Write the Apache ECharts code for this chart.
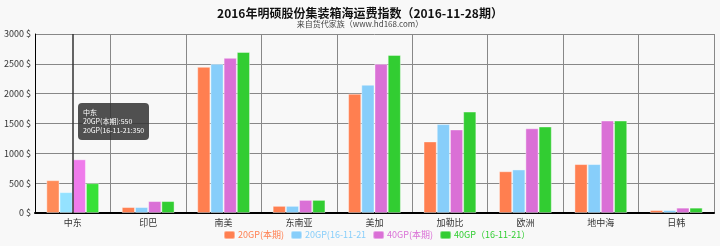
<!DOCTYPE html>
<html><head><meta charset="utf-8">
<script src="https://cdn.jsdelivr.net/npm/echarts@6/dist/echarts.min.js"></script>
<style>html,body{margin:0;padding:0;background:#f8f8f8}#c{width:720px;height:246px}</style>
</head><body><div id="c"></div>
<script>
var categories = ['中东','印巴','南美','东南亚','美加','加勒比','欧洲','地中海','日韩'];
var seriesNames = ['20GP(本期)','20GP(16-11-21','40GP(本期)','40GP（16-11-21）'];
var gp20Now = [550, 100, 2450, 120, 2000, 1200, 700, 820, 50];
var gp20Prev = [350, 100, 2500, 120, 2150, 1490, 730, 820, 50];
var gp40Now = [900, 200, 2600, 220, 2500, 1400, 1420, 1550, 90];
var gp40Prev = [500, 200, 2700, 220, 2650, 1700, 1450, 1550, 90];
var yTicks = [0, 500, 1000, 1500, 2000, 2500, 3000];
var colors = ['#ff7f50','#87cefa','#da70d6','#32cd32'];
var font = '"Noto Sans CJK SC", "Noto Sans", sans-serif';
var chart = echarts.init(document.getElementById('c'), null, {renderer:'canvas'});
var data = [gp20Now, gp20Prev, gp40Now, gp40Prev];
chart.setOption({
  backgroundColor: '#f8f8f8',
  animation: false,
  color: colors,
  textStyle: {fontFamily: font},
  title: {
    text: '2016年明硕股份集装箱海运费指数（2016-11-28期）',
    subtext: '来自货代家族（www.hd168.com）',
    left: 'center', top: 2, itemGap: 1,
    textStyle: {fontSize: 12, fontWeight: 'bold', color: '#111', fontFamily: font},
    subtextStyle: {fontSize: 8, color: '#444', fontFamily: font}
  },
  tooltip: {
    trigger: 'axis',
    alwaysShowContent: true,
    position: [78, 103],
    backgroundColor: 'rgba(50,50,50,0.85)',
    borderWidth: 0,
    padding: [5, 5],
    textStyle: {color: '#fff', fontSize: 7, fontFamily: font},
    extraCssText: 'line-height:9px;border-radius:4px;box-shadow:none;',
    axisPointer: {type: 'line', lineStyle: {color: '#333', width: 1.5, type: 'solid'}},
    formatter: function (p) {
      return p[0].name + '<br/>' + p[0].seriesName + ':' + p[0].value + '<br/>' + p[1].seriesName + ':' + p[1].value;
    }
  },
  legend: {
    bottom: 1, left: 218, itemWidth: 11, itemHeight: 8, itemGap: 6,
    data: seriesNames.map(function(n, i){ return {name: n, textStyle: {color: colors[i]}}; }),
    textStyle: {fontSize: 9, fontFamily: font, padding: [0, 0, 0, -2]}
  },
  grid: {left: 35, right: 6, top: 34, bottom: 33},
  xAxis: {
    type: 'category', data: categories,
    axisLine: {lineStyle: {color: '#000', width: 2}},
    axisTick: {show: false},
    axisLabel: {fontSize: 9, color: '#333', margin: 5},
    splitLine: {show: true, lineStyle: {color: '#888', width: 1}}
  },
  yAxis: {
    type: 'value', min: 0, max: 3000, interval: 500,
    axisLine: {show: true, lineStyle: {color: '#000', width: 1}},
    axisTick: {show: false},
    axisLabel: {fontSize: 9, color: '#333', margin: 4, formatter: function(v){ return yTicks.indexOf(v) >= 0 ? v + ' $' : ''; }},
    splitLine: {lineStyle: {color: '#888', width: 1}}
  },
  series: seriesNames.map(function(n, i){
    return {
      name: n, type: 'bar', data: data[i], barGap: '0%', barCategoryGap: '30%',
      itemStyle: {color: colors[i], borderColor: 'rgba(255,255,255,0.4)', borderWidth: 1}
    };
  })
});
chart.dispatchAction({type: 'showTip', seriesIndex: 0, dataIndex: 0});
</script></body></html>
